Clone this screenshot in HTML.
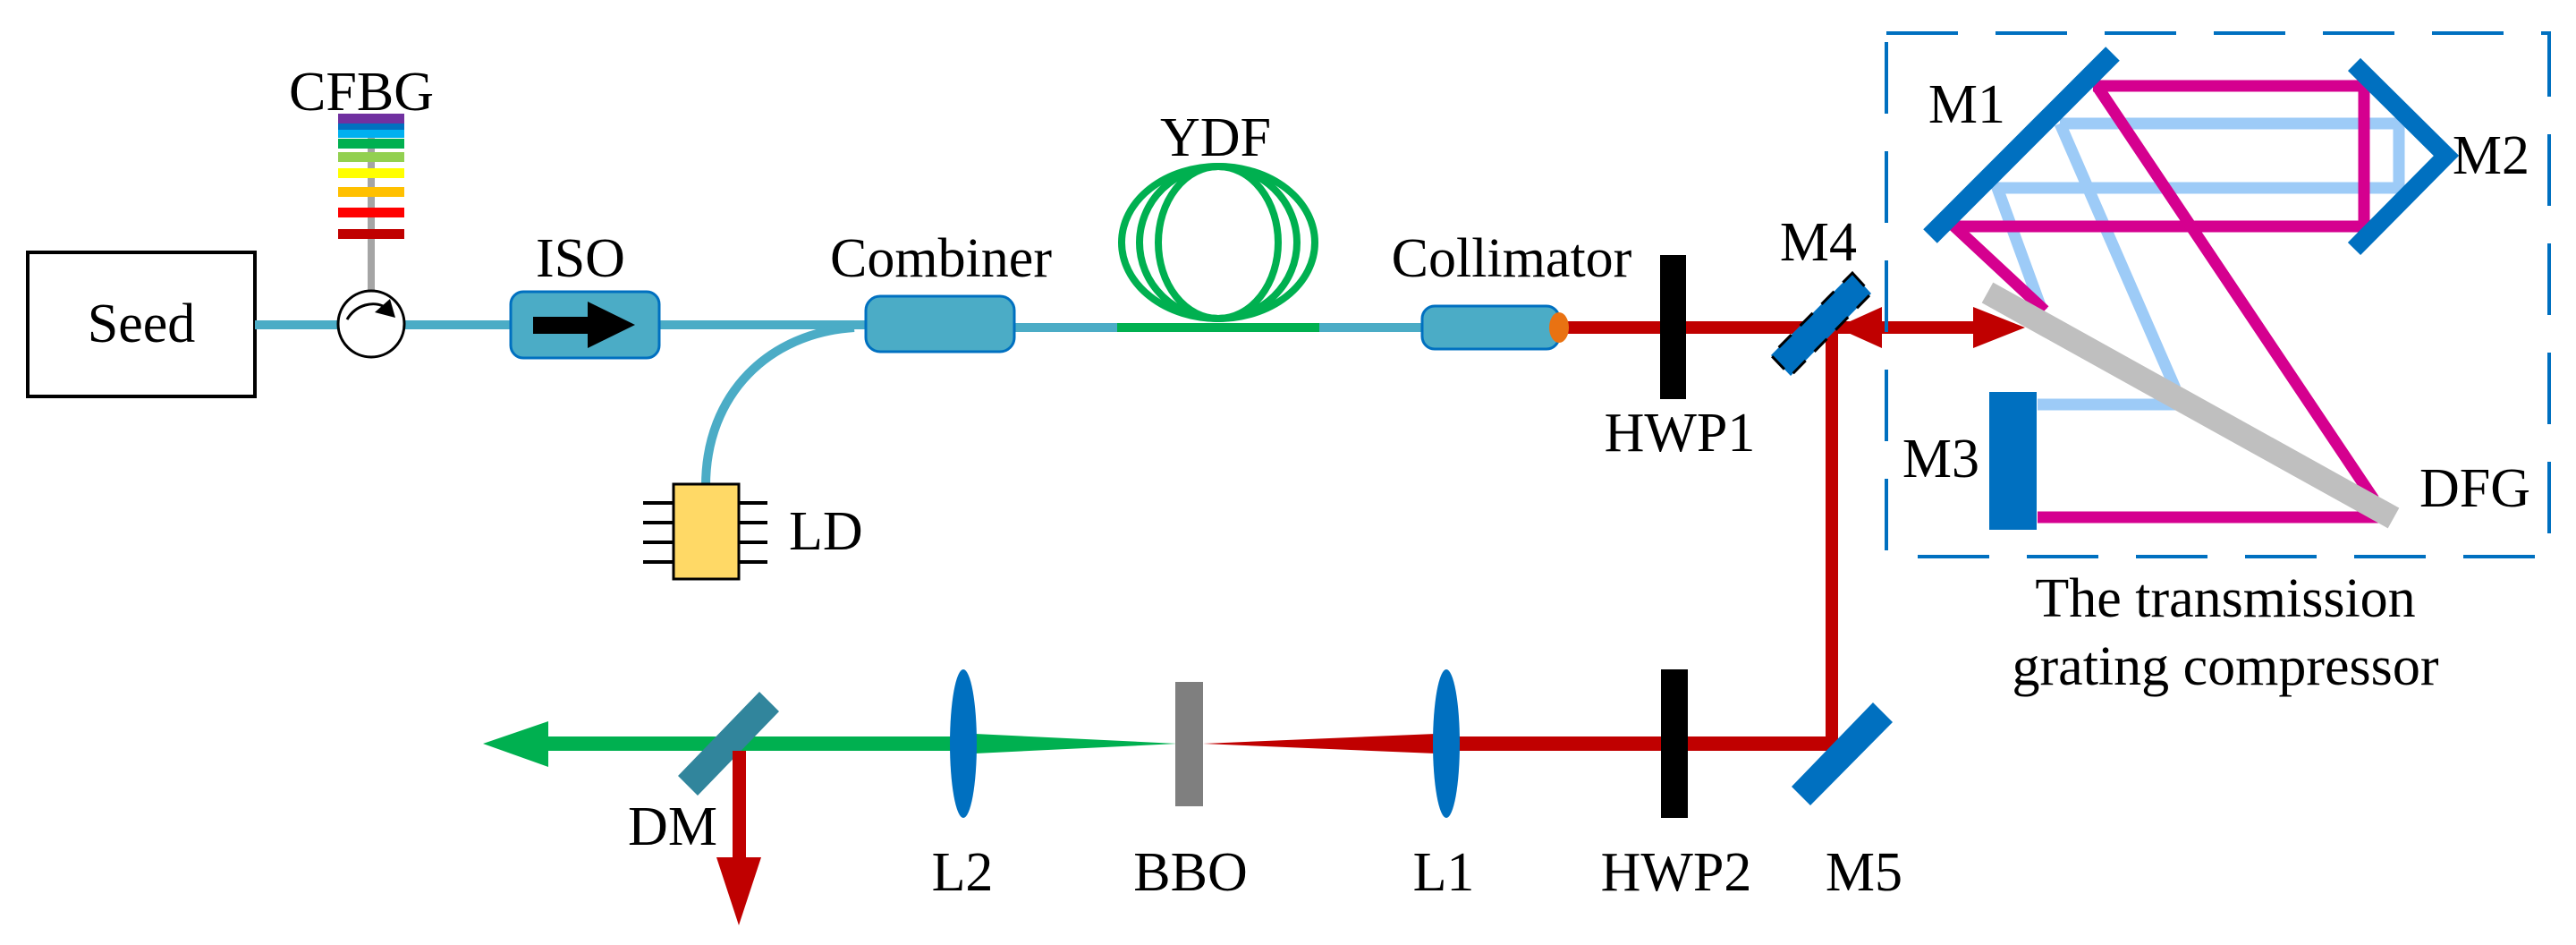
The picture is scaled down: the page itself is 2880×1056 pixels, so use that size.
<!DOCTYPE html>
<html><head><meta charset="utf-8"><style>
html,body{margin:0;padding:0;background:#fff;}
svg{display:block;}
svg text{font-family:"Liberation Serif","DejaVu Serif",serif !important;font-size:62px;fill:#000;}
</style></head><body>
<svg width="2880" height="1056" viewBox="0 0 2880 1056" xmlns="http://www.w3.org/2000/svg" font-family="Liberation Serif, DejaVu Serif, serif" font-size="62">
<rect width="2880" height="1056" fill="#fff"/>

<!-- Seed -->
<rect x="31" y="282" width="254" height="161" fill="#fff" stroke="#000" stroke-width="4"/>
<text x="158" y="382" text-anchor="middle" font-family="Liberation Serif, DejaVu Serif, serif">Seed</text>

<!-- fibers -->
<g stroke="#4BACC6" stroke-width="10" fill="none">
<line x1="285" y1="363" x2="380" y2="363"/>
<line x1="450" y1="363" x2="575" y2="363"/>
<line x1="735" y1="363" x2="970" y2="363"/>
<path d="M 955 366 C 860 372, 789 440, 789 543"/>
<line x1="1130" y1="366" x2="1250" y2="366"/>
<line x1="1474" y1="366" x2="1592" y2="366"/>
</g>

<!-- CFBG -->
<line x1="415" y1="130" x2="415" y2="326" stroke="#A5A5A5" stroke-width="8"/>
<rect x="378" y="127" width="74" height="11" fill="#7030A0"/>
<rect x="378" y="138" width="74" height="7" fill="#0070C0"/>
<rect x="378" y="145" width="74" height="9" fill="#00B0F0"/>
<rect x="378" y="155" width="74" height="11" fill="#00B050"/>
<rect x="378" y="170" width="74" height="11" fill="#92D050"/>
<rect x="378" y="188" width="74" height="11" fill="#FFFF00"/>
<rect x="378" y="209" width="74" height="11" fill="#FFC000"/>
<rect x="378" y="232" width="74" height="11" fill="#FF0000"/>
<rect x="378" y="256" width="74" height="11" fill="#C00000"/>
<text x="404" y="123" text-anchor="middle" font-family="Liberation Serif, DejaVu Serif, serif">CFBG</text>

<!-- circulator -->
<circle cx="415" cy="362" r="37" fill="#fff" stroke="#000" stroke-width="3"/>
<path d="M 388 357 C 398 340, 418 336, 430 343" fill="none" stroke="#000" stroke-width="3"/>
<polygon points="419,349 436,334 442,355" fill="#000"/>

<!-- ISO -->
<rect x="571" y="326" width="166" height="74" rx="14" fill="#4BACC6" stroke="#0070C0" stroke-width="3"/>
<rect x="596" y="354" width="62" height="19" fill="#000"/>
<polygon points="657,337 710,363 657,389" fill="#000"/>
<text x="649" y="309" text-anchor="middle" font-family="Liberation Serif, DejaVu Serif, serif">ISO</text>

<!-- LD -->
<g stroke="#000" stroke-width="4">
<line x1="719" y1="562" x2="753" y2="562"/><line x1="719" y1="584" x2="753" y2="584"/>
<line x1="719" y1="606" x2="753" y2="606"/><line x1="719" y1="628" x2="753" y2="628"/>
<line x1="826" y1="562" x2="858" y2="562"/><line x1="826" y1="584" x2="858" y2="584"/>
<line x1="826" y1="606" x2="858" y2="606"/><line x1="826" y1="628" x2="858" y2="628"/>
</g>
<rect x="753" y="541" width="73" height="106" fill="#FFD966" stroke="#000" stroke-width="3"/>
<text x="882" y="614" font-family="Liberation Serif, DejaVu Serif, serif">LD</text>

<!-- Combiner -->
<rect x="968" y="331" width="166" height="62" rx="16" fill="#4BACC6" stroke="#0070C0" stroke-width="3"/>
<text x="1052" y="309" text-anchor="middle" font-family="Liberation Serif, DejaVu Serif, serif">Combiner</text>

<!-- YDF -->
<g stroke="#00B050" stroke-width="8" fill="none">
<ellipse cx="1362" cy="271" rx="108" ry="85"/>
<ellipse cx="1362" cy="271" rx="88" ry="85"/>
<ellipse cx="1362" cy="271" rx="67" ry="85"/>
</g>
<line x1="1249" y1="366" x2="1475" y2="366" stroke="#00B050" stroke-width="10"/>
<text x="1359" y="174" text-anchor="middle" font-family="Liberation Serif, DejaVu Serif, serif">YDF</text>

<!-- Collimator -->
<rect x="1590" y="342" width="153" height="48" rx="14" fill="#4BACC6" stroke="#0070C0" stroke-width="3"/>
<text x="1690" y="309" text-anchor="middle" font-family="Liberation Serif, DejaVu Serif, serif">Collimator</text>

<!-- red beams -->
<g fill="#C00000">
<rect x="1743" y="359" width="312" height="14"/>
<rect x="2041" y="359" width="14" height="480"/>
<rect x="1603" y="823" width="452" height="16"/>
<rect x="2055" y="359" width="160" height="14"/>
<polygon points="2053,366 2104,343 2104,389"/>
<polygon points="2206,343 2264,366 2206,389"/>
<polygon points="1345,831 1605,820 1605,842"/>
<rect x="819" y="831" width="15" height="128"/>
<polygon points="801,958 851,958 826,1034"/>
</g>
<ellipse cx="1743" cy="366" rx="11" ry="17" fill="#E97212"/>

<!-- HWP1 -->
<rect x="1856" y="285" width="29" height="161" fill="#000"/>
<text x="1878" y="504" text-anchor="middle" font-family="Liberation Serif, DejaVu Serif, serif">HWP1</text>

<!-- M4 -->
<polygon points="2071,305 2092,328 2002,420 1980,397" fill="#0070C0" stroke="#000" stroke-width="3" stroke-dasharray="20 14"/>
<text x="2033" y="291" text-anchor="middle" font-family="Liberation Serif, DejaVu Serif, serif">M4</text>

<!-- dashed box -->
<rect x="2109" y="37" width="741" height="585" fill="none" stroke="#0070C0" stroke-width="4" stroke-dasharray="80 42"/>

<!-- compressor beams light blue -->
<g stroke="#9DCBF7" stroke-width="13" fill="none" stroke-linejoin="miter">
<polyline points="2303,138 2682,138 2682,210 2233,210 2283,347"/>
<line x1="2303" y1="138" x2="2432" y2="434"/>
<line x1="2278" y1="452" x2="2432" y2="452"/>
</g>
<!-- magenta -->
<g stroke="#D5008F" stroke-width="13" fill="none" stroke-linejoin="miter">
<polyline points="2340,96 2643,96 2643,253 2185,253 2286,347"/>
<line x1="2345" y1="97" x2="2654" y2="558"/>
<line x1="2278" y1="578" x2="2660" y2="578"/>
</g>
<!-- DFG grating -->
<line x1="2222" y1="327" x2="2676" y2="579" stroke="#BFBFBF" stroke-width="26"/>
<text x="2767" y="566" text-anchor="middle" font-family="Liberation Serif, DejaVu Serif, serif">DFG</text>

<!-- M1 -->
<line x1="2362" y1="60" x2="2158" y2="264" stroke="#0070C0" stroke-width="22"/>
<text x="2199" y="137" text-anchor="middle" font-family="Liberation Serif, DejaVu Serif, serif">M1</text>
<!-- M2 -->
<polyline points="2632,72 2735,174 2632,278" fill="none" stroke="#0070C0" stroke-width="20"/>
<text x="2785" y="194" text-anchor="middle" font-family="Liberation Serif, DejaVu Serif, serif">M2</text>
<!-- M3 -->
<rect x="2224" y="438" width="53" height="154" fill="#0070C0"/>
<text x="2170" y="533" text-anchor="middle" font-family="Liberation Serif, DejaVu Serif, serif">M3</text>

<text x="2488" y="689" text-anchor="middle" font-family="Liberation Serif, DejaVu Serif, serif">The transmission</text>
<text x="2488" y="765" text-anchor="middle" font-family="Liberation Serif, DejaVu Serif, serif">grating compressor</text>

<!-- bottom line -->
<rect x="612" y="823" width="470" height="16" fill="#00B050"/>
<polygon points="540,831 613,806 613,857" fill="#00B050"/>
<polygon points="1090,820 1316,831 1090,842" fill="#00B050"/>
<polygon points="849,773 871,795 780,889 758,867" fill="#31859C"/>
<rect x="819" y="839" width="15" height="120" fill="#C00000"/>
<ellipse cx="1077" cy="831" rx="15" ry="83" fill="#0070C0"/>
<rect x="1314" y="762" width="31" height="139" fill="#7F7F7F"/>
<ellipse cx="1617" cy="831" rx="15" ry="83" fill="#0070C0"/>
<rect x="1857" y="748" width="30" height="166" fill="#000"/>
<polygon points="2094,785 2116,807 2024,900 2003,879" fill="#0070C0"/>

<g font-family="Liberation Serif, DejaVu Serif, serif">
<text x="752" y="944" text-anchor="middle">DM</text>
<text x="1076" y="995" text-anchor="middle">L2</text>
<text x="1331" y="995" text-anchor="middle">BBO</text>
<text x="1614" y="995" text-anchor="middle">L1</text>
<text x="1874" y="995" text-anchor="middle">HWP2</text>
<text x="2084" y="995" text-anchor="middle">M5</text>
</g>
</svg>
</body></html>
